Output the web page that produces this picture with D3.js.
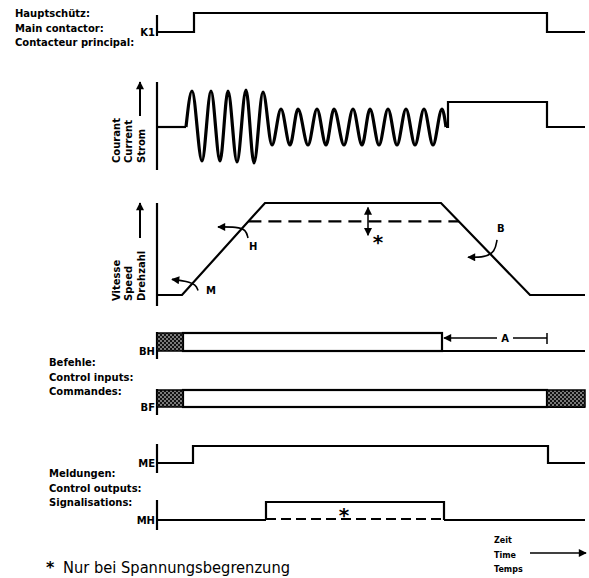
<!DOCTYPE html>
<html>
<head>
<meta charset="utf-8">
<script src="https://cdn.jsdelivr.net/npm/d3@7"></script>
<style>
  body { margin: 0; background: #fff; }
  svg { display: block; }
  text { font-family: "DejaVu Sans", sans-serif; fill: #000; }
  .lbl { font-weight: bold; font-size: 10px; }
  .star { font-weight: bold; font-size: 20px; }
</style>
</head>
<body>
<div id="chart"></div>
<script>
// ---- data (time in arbitrary units, 0 = start of every trace) ----
const timeEnd = 428;

// main contactor K1 [on, off]
const k1Edges = [37, 390];

// motor current: extrema of the AC wave [t, value]
const currentWave = [
  [29, 0], [35, 36], [45, -34], [54, 36], [63, -34], [71, 36], [80, -35],
  [89, 37], [97, -36], [106, 35], [115, -18], [124, 18], [133, -18], [141, 18],
  [151, -18], [160, 18], [169, -18], [177, 18], [187, -18], [196, 18], [205, -18],
  [213, 18], [222, -18], [231, 18], [240, -18], [249, 18], [258, -18], [267, 18],
  [276, -18], [285, 18], [289, 0]
];
// DC holding current after the wave
const currentDc = [[289, 0], [291, 0], [291, 25], [390, 25], [390, 0], [428, 0]];

// speed profile [t, % of rated]
const speedProfile = [[0, 0], [25, 0], [108, 100], [284, 100], [373, 0], [428, 0]];
const speedLimit = 80; // level with voltage limitation (dashed)

// control inputs: hatched = undefined, box = high
const bhHatch = [[0, 26]];
const bhHigh = [26, 285];
const bfHatch = [[0, 26], [390, 428]];
const bfHigh = [26, 390];
const aSpan = [285, 390];

// control outputs [on, off]
const meEdges = [36, 391];
const mhEdges = [109, 287];

// text
const k1Labels = ["Hauptschütz:", "Main contactor:", "Contacteur principal:"];
const currentLabels = ["Courant", "Current", "Strom"];
const speedLabels = ["Vitesse", "Speed", "Drehzahl"];
const inputLabels = ["Befehle:", "Control inputs:", "Commandes:"];
const outputLabels = ["Meldungen:", "Control outputs:", "Signalisations:"];
const timeLabels = ["Zeit", "Time", "Temps"];
const footnote = "Nur bei Spannungsbegrenzung";

// ---- layout ----
const width = 589, height = 578;
const axisX = 157;
const lw = 2.2;

const svg = d3.select("#chart").append("svg")
  .attr("width", width)
  .attr("height", height);

const defs = svg.append("defs");

// dotted black fill for undefined input state
const pat = defs.append("pattern")
  .attr("id", "hatch")
  .attr("width", 4).attr("height", 4)
  .attr("patternUnits", "userSpaceOnUse");
pat.append("rect").attr("width", 4).attr("height", 4).attr("fill", "#111");
pat.append("circle").attr("cx", 1).attr("cy", 1).attr("r", 0.8).attr("fill", "#fff");
pat.append("circle").attr("cx", 3).attr("cy", 3).attr("r", 0.8).attr("fill", "#fff");

defs.append("marker")
  .attr("id", "arrow")
  .attr("viewBox", "0 0 10 10")
  .attr("refX", 9).attr("refY", 5)
  .attr("markerUnits", "userSpaceOnUse")
  .attr("markerWidth", 9).attr("markerHeight", 8)
  .attr("orient", "auto-start-reverse")
  .append("path").attr("d", "M0,0L10,5L0,10z").attr("fill", "#000");

const x = d3.scaleLinear().domain([0, timeEnd]).range([axisX, 585]);

// step points for a two-level signal
function steps(edges) {
  return [[0, 0], [edges[0], 0], [edges[0], 1], [edges[1], 1], [edges[1], 0], [timeEnd, 0]];
}

function axisLine(y1, y2) {
  svg.append("line")
    .attr("x1", axisX).attr("x2", axisX)
    .attr("y1", y1).attr("y2", y2)
    .attr("stroke", "#000").attr("stroke-width", lw);
}

function rowLabel(name, base) {
  svg.append("text").attr("class", "lbl")
    .attr("x", axisX - 2).attr("y", base + 3.5)
    .attr("text-anchor", "end")
    .text(name);
}

function textBlock(lines, x0, y0, dy) {
  svg.append("g").selectAll("text")
    .data(lines).enter()
    .append("text").attr("class", "lbl")
    .attr("x", x0).attr("y", (d, i) => y0 + i * dy)
    .text(d => d);
}

function verticalLabels(lines, bottom, arrowTop, arrowBottom) {
  const cols = [116, 128.5, 141];
  svg.append("g").selectAll("text")
    .data(lines).enter()
    .append("text").attr("class", "lbl")
    .attr("transform", (d, i) => `translate(${cols[i] + 3.6},${bottom}) rotate(-90)`)
    .text(d => d);
  svg.append("line")
    .attr("x1", 140).attr("x2", 140)
    .attr("y1", arrowBottom).attr("y2", arrowTop)
    .attr("stroke", "#000").attr("stroke-width", 2)
    .attr("marker-end", "url(#arrow)");
}

// ---- K1 ----
const yK1 = d3.scaleLinear().domain([0, 1]).range([32, 13]);
const stepLine = y => d3.line().x(d => x(d[0])).y(d => y(d[1]));

textBlock(k1Labels, 15, 17, 14.5);
axisLine(15, 36);
rowLabel("K1", 32);
svg.append("path")
  .attr("d", stepLine(yK1)(steps(k1Edges)))
  .attr("fill", "none").attr("stroke", "#000").attr("stroke-width", lw);

// ---- current ----
const yCur = d3.scaleLinear().domain([-40, 40]).range([167, 87]);
axisLine(82, 170);
verticalLabels(currentLabels, 163, 82, 116);
svg.append("line")
  .attr("x1", x(0)).attr("x2", x(currentWave[0][0]))
  .attr("y1", yCur(0)).attr("y2", yCur(0))
  .attr("stroke", "#000").attr("stroke-width", lw);
svg.append("path")
  .attr("d", d3.line().curve(d3.curveMonotoneX)
    .x(d => x(d[0])).y(d => yCur(d[1]))(currentWave))
  .attr("fill", "none").attr("stroke", "#000").attr("stroke-width", 3.2);
svg.append("path")
  .attr("d", stepLine(yCur)(currentDc))
  .attr("fill", "none").attr("stroke", "#000").attr("stroke-width", lw);

// ---- speed ----
const ySpd = d3.scaleLinear().domain([0, 100]).range([295, 203]);
axisLine(203, 306);
verticalLabels(speedLabels, 301, 203, 238);
svg.append("path")
  .attr("d", stepLine(ySpd)(speedProfile))
  .attr("fill", "none").attr("stroke", "#000").attr("stroke-width", lw);

// dashed limit between the ramps
const up = [speedProfile[1], speedProfile[2]];
const down = [speedProfile[3], speedProfile[4]];
const onRamp = (r, v) => r[0][0] + (v - r[0][1]) / (r[1][1] - r[0][1]) * (r[1][0] - r[0][0]);
svg.append("line")
  .attr("x1", x(onRamp(up, speedLimit))).attr("x2", x(onRamp(down, speedLimit)))
  .attr("y1", ySpd(speedLimit)).attr("y2", ySpd(speedLimit))
  .attr("stroke", "#000").attr("stroke-width", lw)
  .attr("stroke-dasharray", "13,7");

// double arrow for the adjustable limit
svg.append("line")
  .attr("x1", x(211)).attr("x2", x(211))
  .attr("y1", ySpd(95)).attr("y2", ySpd(65))
  .attr("stroke", "#000").attr("stroke-width", 1.5)
  .attr("marker-start", "url(#arrow)").attr("marker-end", "url(#arrow)");
svg.append("text").attr("class", "star")
  .attr("x", x(221)).attr("y", ySpd(50))
  .attr("text-anchor", "middle")
  .text("*");

// curved annotation arrows
const curve = d3.line().curve(d3.curveBasis).x(d => x(d[0])).y(d => ySpd(d[1]));
const notes = [
  { pts: [[91, 62], [89, 71], [80, 74], [61, 74]], label: "H", at: [92, 49] },
  { pts: [[41, 5], [39, 11], [30, 15], [15, 17]], label: "M", at: [49, 1] },
  { pts: [[340, 60], [338, 47], [328, 41], [311, 41]], label: "B", at: [340, 68] }
];
notes.forEach(n => {
  svg.append("path")
    .attr("d", curve(n.pts))
    .attr("fill", "none").attr("stroke", "#000").attr("stroke-width", 1.6)
    .attr("marker-end", "url(#arrow)");
  svg.append("text").attr("class", "lbl")
    .attr("x", x(n.at[0])).attr("y", ySpd(n.at[1]))
    .text(n.label);
});

// ---- control inputs ----
function inputRow(name, base, top, hatch, high) {
  axisLine(top - 1, base + 8);
  rowLabel(name, base);
  svg.append("line")
    .attr("x1", x(high[1])).attr("x2", x(timeEnd))
    .attr("y1", base).attr("y2", base)
    .attr("stroke", "#000").attr("stroke-width", lw);
  svg.append("rect")
    .attr("x", x(high[0])).attr("y", top)
    .attr("width", x(high[1]) - x(high[0])).attr("height", base - top)
    .attr("fill", "#fff").attr("stroke", "#000").attr("stroke-width", lw);
  svg.append("g").selectAll("rect")
    .data(hatch).enter()
    .append("rect")
    .attr("x", d => x(d[0])).attr("y", top)
    .attr("width", d => x(d[1]) - x(d[0])).attr("height", base - top)
    .attr("fill", "url(#hatch)").attr("stroke", "#000").attr("stroke-width", 1.5);
}

inputRow("BH", 351, 333, bhHatch, bhHigh);
inputRow("BF", 407, 390, bfHatch, bfHigh);
textBlock(inputLabels, 49, 366, 14.5);

// dimension A
const aY = 338;
svg.append("line")
  .attr("x1", 497).attr("x2", x(aSpan[0]) + 2)
  .attr("y1", aY).attr("y2", aY)
  .attr("stroke", "#000").attr("stroke-width", 1.5)
  .attr("marker-end", "url(#arrow)");
svg.append("line")
  .attr("x1", 513).attr("x2", x(aSpan[1]))
  .attr("y1", aY).attr("y2", aY)
  .attr("stroke", "#000").attr("stroke-width", 1.5);
svg.append("line")
  .attr("x1", x(aSpan[1])).attr("x2", x(aSpan[1]))
  .attr("y1", aY - 5).attr("y2", aY + 6)
  .attr("stroke", "#000").attr("stroke-width", 1.5);
svg.append("text").attr("class", "lbl")
  .attr("x", 505).attr("y", aY + 3.5)
  .attr("text-anchor", "middle")
  .text("A");

// ---- control outputs ----
const yME = d3.scaleLinear().domain([0, 1]).range([463, 446]);
axisLine(444, 473);
rowLabel("ME", 463);
svg.append("path")
  .attr("d", stepLine(yME)(steps(meEdges)))
  .attr("fill", "none").attr("stroke", "#000").attr("stroke-width", lw);

const yMH = d3.scaleLinear().domain([0, 1]).range([520, 502]);
axisLine(500, 530);
rowLabel("MH", 520);
const mh = steps(mhEdges);
// solid baseline outside the pulse, box edges solid, bottom of pulse dashed
[mh.slice(0, 2), mh.slice(1, 5), mh.slice(4)].forEach(seg => {
  svg.append("path")
    .attr("d", stepLine(yMH)(seg))
    .attr("fill", "none").attr("stroke", "#000").attr("stroke-width", lw);
});
svg.append("line")
  .attr("x1", x(mhEdges[0])).attr("x2", x(mhEdges[1]))
  .attr("y1", yMH(0) - 1).attr("y2", yMH(0) - 1)
  .attr("stroke", "#000").attr("stroke-width", lw)
  .attr("stroke-dasharray", "10,5");
svg.append("text").attr("class", "star")
  .attr("x", 344).attr("y", 522)
  .attr("text-anchor", "middle")
  .text("*");

textBlock(outputLabels, 49, 477, 14.5);

// ---- time arrow + footnote ----
svg.append("g").selectAll("text")
  .data(timeLabels).enter()
  .append("text").attr("class", "lbl")
  .style("font-size", "8px")
  .attr("x", 494).attr("y", (d, i) => 543 + i * 14.5)
  .text(d => d);
svg.append("line")
  .attr("x1", 530).attr("x2", 586)
  .attr("y1", 553).attr("y2", 553)
  .attr("stroke", "#000").attr("stroke-width", 1.6)
  .attr("marker-end", "url(#arrow)");

svg.append("text").attr("class", "star")
  .style("font-size", "16px")
  .attr("x", 46).attr("y", 573)
  .text("*");
svg.append("text")
  .attr("x", 63).attr("y", 573)
  .attr("textLength", 227).attr("lengthAdjust", "spacingAndGlyphs")
  .style("font-size", "15px")
  .text(footnote);
</script>
</body>
</html>
